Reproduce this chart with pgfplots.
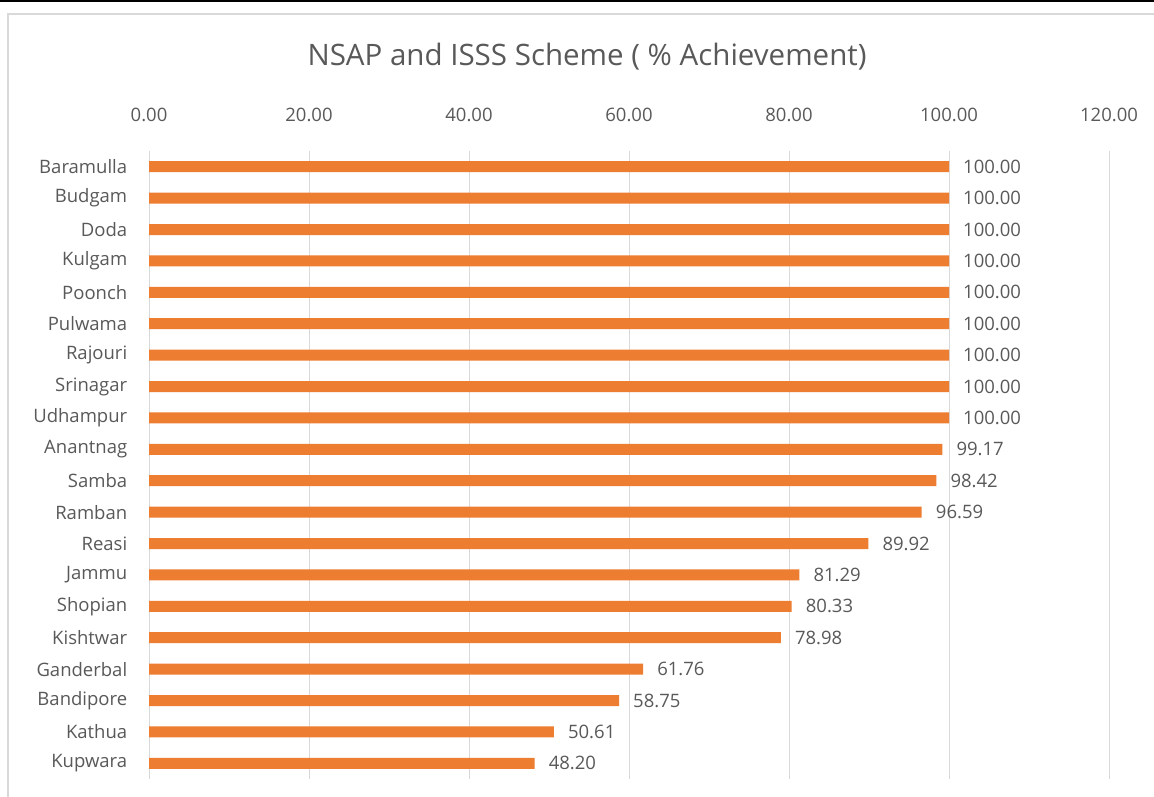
\documentclass[border=0pt]{standalone}
\usepackage{fontspec}
\setmainfont{Open Sans}
\usepackage{pgfplots}
\pgfplotsset{compat=1.18}
\definecolor{barc}{HTML}{ED7D31}
\definecolor{txt}{HTML}{595959}
\definecolor{gridc}{HTML}{D9D9D9}
\begin{document}
\begin{tikzpicture}[x=1pt,y=1pt]
\useasboundingbox (0,0) rectangle (1154,796);
\fill[white] (0,0) rectangle (1154,796);
\draw[black, line width=2pt] (0,795) -- (1154,795);
\draw[gridc, line width=2pt] (8,-5) -- (8,782) -- (1160,782);
\node[text=txt, font=\fontsize{29.5}{34}\selectfont] at (587,739) {NSAP and ISSS Scheme ( \% Achievement)};
\begin{axis}[
  at={(149pt,17pt)}, anchor=south west,
  scale only axis, width=960pt, height=628pt,
  xmin=0, xmax=120, ymin=-0.5, ymax=19.5, y dir=reverse,
  xbar, bar width=11pt,
  axis line style={draw=none}, major tick style={draw=none},
  xmajorgrids, grid style={gridc, line width=1pt},
  xtick={0,20,40,60,80,100,120},
  xticklabel pos=upper,
  xticklabel style={text=txt, font=\fontsize{18.5}{22}\selectfont, /pgf/number format/fixed, /pgf/number format/zerofill, /pgf/number format/precision=2, yshift=26pt},
  /pgf/number format/assume math mode=true,
  ytick={0,...,19},
  yticklabels={Baramulla,Budgam,Doda,Kulgam,Poonch,Pulwama,Rajouri,Srinagar,Udhampur,Anantnag,Samba,Ramban,Reasi,Jammu,Shopian,Kishtwar,Ganderbal,Bandipore,Kathua,Kupwara},
  yticklabel style={text=txt, font=\fontsize{18.5}{22}\selectfont, xshift=-14pt},
  nodes near coords,
  nodes near coords style={text=txt, font=\fontsize{18.5}{22}\selectfont, anchor=west, inner sep=0pt, xshift=14pt, /pgf/number format/fixed, /pgf/number format/zerofill, /pgf/number format/precision=2},
]
\addplot[fill=barc, draw=none] coordinates {
(100,0) (100,1) (100,2) (100,3) (100,4) (100,5) (100,6) (100,7) (100,8)
(99.17,9) (98.42,10) (96.59,11) (89.92,12) (81.29,13) (80.33,14) (78.98,15)
(61.76,16) (58.75,17) (50.61,18) (48.20,19)};
\end{axis}
\end{tikzpicture}
\end{document}
